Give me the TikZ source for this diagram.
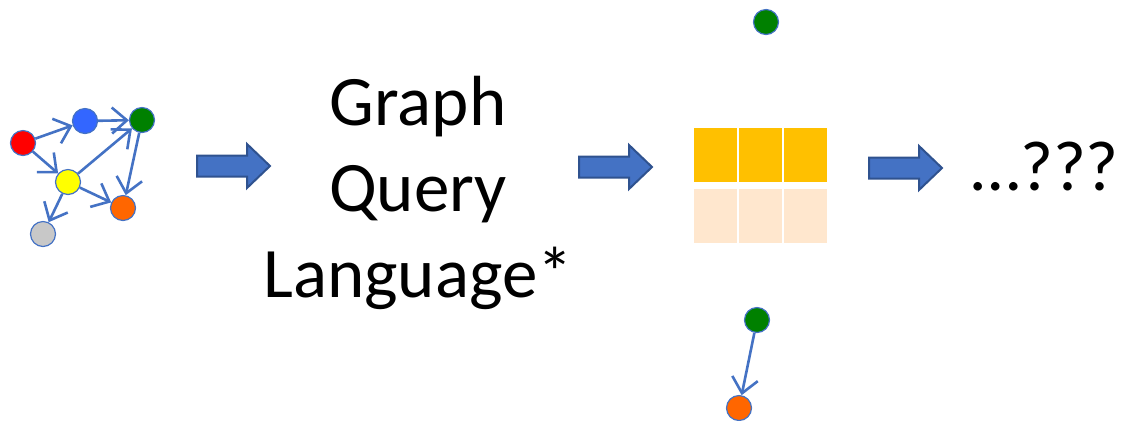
\documentclass[tikz,border=0pt]{standalone}
\usepackage{fontspec}
\setmainfont{Carlito}
\usetikzlibrary{arrows.meta}
\definecolor{edgeblue}{HTML}{4472C4}
\definecolor{arrowline}{HTML}{2F528F}
\definecolor{vred}{HTML}{FF0000}
\definecolor{vblue}{HTML}{3366FF}
\definecolor{vgreen}{HTML}{008000}
\definecolor{vyellow}{HTML}{FFFF00}
\definecolor{vorange}{HTML}{FF6600}
\definecolor{vgray}{HTML}{C8C8C8}
\definecolor{cellgold}{HTML}{FFC000}
\definecolor{cellpale}{HTML}{FFE7CE}
\tikzset{
  vertex/.style={circle, draw=edgeblue, line width=0.6pt, minimum size=12.5pt, inner sep=0pt},
  link/.style={draw=edgeblue, line width=1.3pt, -{Straight Barb[length=7.5pt,width=13pt,line width=1.3pt]}},
  bigtext/.style={font=\fontsize{35.5}{43}\selectfont, inner sep=0pt, anchor=base},
  cell/.style={inner sep=0pt, minimum width=21.5pt, minimum height=27pt},
  pics/blockarrow/.style={code={
    \draw[fill=edgeblue, draw=arrowline, line width=1pt, line join=miter]
      (-36,-10.5) -- (14,-10.5) -- (14,-22) -- (37,0) -- (14,22) -- (14,10.5) -- (-36,10.5) -- cycle;
  }}
}
\begin{document}
\begin{tikzpicture}[x=0.5pt, y=-0.5pt]
\useasboundingbox (0,0) rectangle (1129,420);

% input graph
\node[vertex, fill=vred]    (r) at (23,143) {};
\node[vertex, fill=vblue]   (b) at (85,121) {};
\node[vertex, fill=vgreen]  (g) at (142,120) {};
\node[vertex, fill=vyellow] (y) at (68,182) {};
\node[vertex, fill=vorange] (o) at (123,208) {};
\node[vertex, fill=vgray]   (k) at (43,234) {};
\draw[link] (r) -- (b);
\draw[link] (b) -- (g);
\draw[link] (r) -- (y);
\draw[link] (y) -- (g);
\draw[link] (y) -- (o);
\draw[link] (y) -- (k);
\draw[link] (g) -- (o);

% process arrows
\pic at (233,166) {blockarrow};
\pic at (615,167) {blockarrow};
\pic at (905,168) {blockarrow};

% query language label
\node[bigtext] (l1) at (418,125) {Graph};
\node[bigtext] (l2) at (418,211) {Query};
\node[bigtext] (l3) at (418,297) {Language*};

% result table
\foreach \c/\x in {1/715.5, 2/760.5, 3/805.5} {
  \node[cell, fill=cellgold] (top\c) at (\x,155) {};
  \node[cell, fill=cellpale] (bot\c) at (\x,216) {};
}

% single vertices above and below
\node[vertex, fill=vgreen]  (t)  at (766,22) {};
\node[vertex, fill=vgreen]  (s)  at (757,320) {};
\node[vertex, fill=vorange] (so) at (739,408) {};
\draw[link] (s) -- (so);

% outcome
\node[bigtext] (q) at (1045,190) {…???};
\end{tikzpicture}
\end{document}
